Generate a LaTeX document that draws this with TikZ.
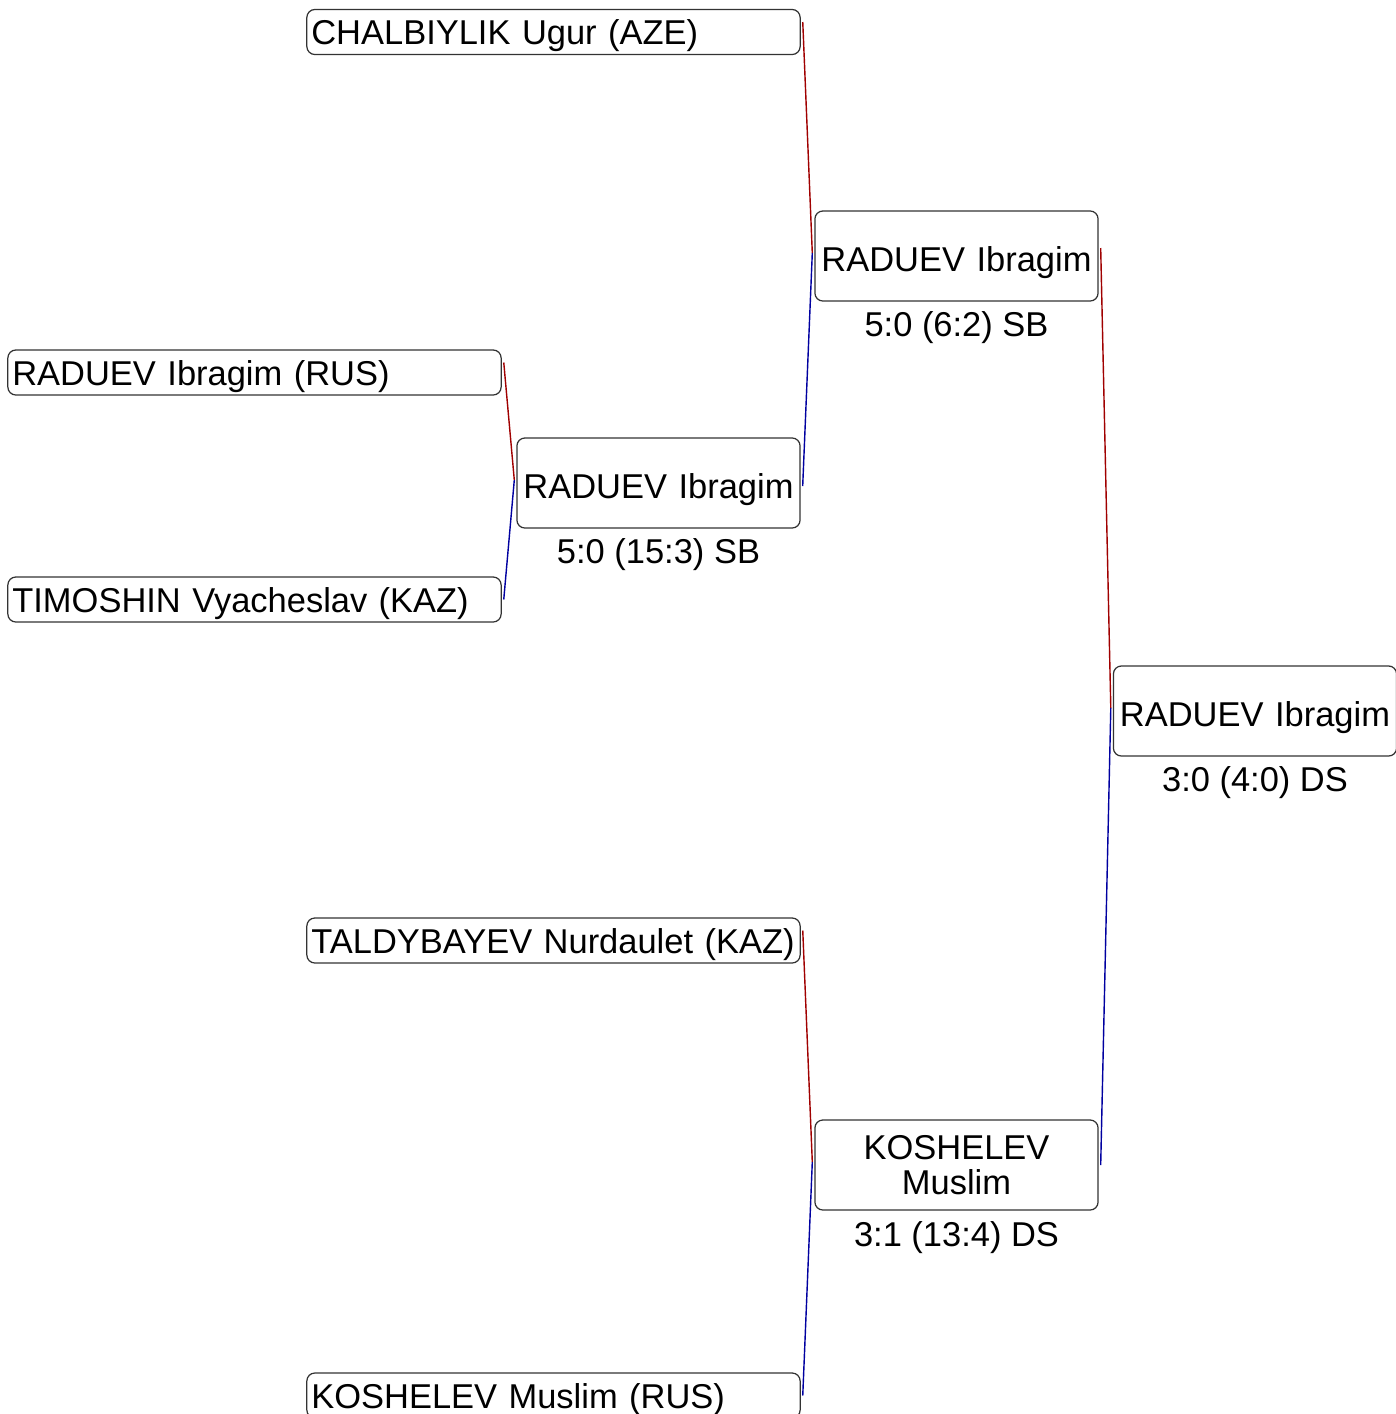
\documentclass[tikz,border=0pt]{standalone}
\usepackage{fontspec}
\setmainfont{Liberation Sans}
\usetikzlibrary{positioning}

\definecolor{redcorner}{RGB}{160,0,0}
\definecolor{bluecorner}{RGB}{0,0,160}

\begin{document}
\begin{tikzpicture}[x=0.01cm,y=-0.01cm,
	every node/.style={font=\fontsize{9.8pt}{10pt}\selectfont},
	athlete/.style={draw=black!80,line width=0.35pt,rounded corners=0.08cm,
		minimum width=4.93cm,minimum height=0.45cm,text width=4.84cm,
		text height=0.25cm,text depth=0pt,
		inner xsep=0.045cm,inner ysep=0pt,align=left},
	winner/.style={draw=black!80,line width=0.35pt,rounded corners=0.08cm,
		minimum width=2.83cm,minimum height=0.9cm,text width=2.75cm,
		inner xsep=0.04cm,inner ysep=0pt,align=center},
	oneline/.style={text height=0.31cm,text depth=0pt},
	score/.style={inner sep=0pt},
	redline/.style={color=redcorner,line width=0.4pt},
	blueline/.style={color=bluecorner,line width=0.4pt}]

\useasboundingbox (0,0) rectangle (1396,1414);

% athletes
\node[athlete] (chalbiylik) at (553.5,32) {CHALBIYLIK Ugur (AZE)};
\node[athlete] (raduev) at (254.5,372.5) {RADUEV Ibragim (RUS)};
\node[athlete] (timoshin) at (254.5,599.5) {TIMOSHIN Vyacheslav (KAZ)};
\node[athlete] (taldybayev) at (553.5,940.5) {TALDYBAYEV Nurdaulet (KAZ)};
\node[athlete] (koshelev) at (553.5,1395.5) {KOSHELEV Muslim (RUS)};

% winners
\node[winner,oneline] (round1) at (658.5,483) {RADUEV Ibragim};
\node[winner,oneline] (semiA) at (956.5,256) {RADUEV Ibragim};
\node[winner] (semiB) at (956.5,1165) {KOSHELEV\\Muslim};
\node[winner,oneline] (final) at (1255,711) {RADUEV Ibragim};

\node[score,below=0.09cm of round1] (round1score) {5:0 (15:3) SB};
\node[score,below=0.09cm of semiA] (semiAscore) {5:0 (6:2) SB};
\node[score,below=0.1cm of semiB] (semiBscore) {3:1 (13:4) DS};
\node[score,below=0.09cm of final] (finalscore) {3:0 (4:0) DS};

% connectors
\coordinate (j1) at ([xshift=-0.02cm,yshift=0.03cm]round1.west);
\coordinate (j2) at ([xshift=-0.02cm,yshift=0.03cm]semiA.west);
\coordinate (j3) at ([xshift=-0.02cm,yshift=0.03cm]semiB.west);
\coordinate (j4) at ([xshift=-0.02cm,yshift=0.03cm]final.west);

\draw[redline] ([xshift=0.02cm,yshift=0.1cm]raduev.east)--(j1);
\draw[blueline] (j1)--([xshift=0.02cm]timoshin.east);

\draw[redline] ([xshift=0.02cm,yshift=0.1cm]chalbiylik.east)--(j2);
\draw[blueline] (j2)--([xshift=0.02cm,yshift=-0.03cm]round1.east);

\draw[redline] ([xshift=0.02cm,yshift=0.1cm]taldybayev.east)--(j3);
\draw[blueline] (j3)--([xshift=0.02cm]koshelev.east);

\draw[redline] ([xshift=0.02cm,yshift=0.08cm]semiA.east)--(j4);
\draw[blueline] (j4)--([xshift=0.02cm]semiB.east);

\end{tikzpicture}
\end{document}
